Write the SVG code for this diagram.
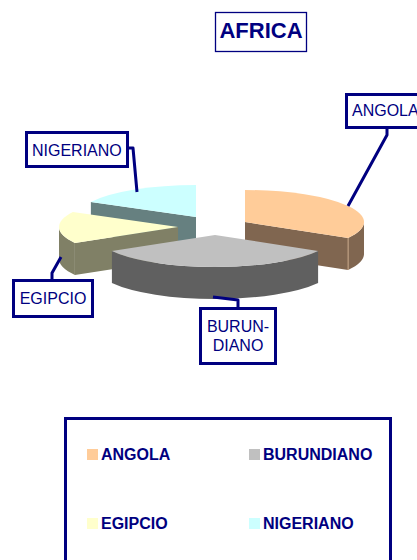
<svg xmlns="http://www.w3.org/2000/svg" width="417" height="560" viewBox="0 0 417 560">
<style>
.lbl{font-family:"Liberation Sans",Arial,sans-serif;font-size:16px;fill:#000080}
.leg{font-family:"Liberation Sans",Arial,sans-serif;font-size:16px;font-weight:bold;fill:#000080}
.box{fill:#fff;stroke:#000080;stroke-width:3}
.lead{fill:none;stroke:#000080;stroke-width:3;stroke-linejoin:round}
</style>
<rect width="417" height="560" fill="#fff"/>
<g id="title">
<rect x="215.5" y="12.5" width="91" height="39" fill="#fff" stroke="#000080" stroke-width="1.3"/>
<text x="261" y="37.5" text-anchor="middle" font-family="'Liberation Sans',Arial,sans-serif" font-size="22" font-weight="bold" fill="#000080">AFRICA</text>
</g>
<g id="slice-nigeriano">
<path d="M196,217 L90.9,202 L90.9,234 L196,249 Z" fill="#668080"/>
<path d="M196,217 L90.9,202 A119,32 0 0 1 196,185 Z" fill="#CCFFFF"/>
</g>
<g id="slice-angola">
<path d="M245,222 L348.1,238 L348.1,270 L245,254 Z" fill="#806650"/>
<path d="M348.1,238 A119,32 0 0 0 364,222 L364,254 A119,32 0 0 1 348.1,270 Z" fill="#806650"/>
<line x1="348.1" y1="238" x2="348.1" y2="270" stroke="#C8A888" stroke-width="1"/>
<path d="M245,222 L245,190 A119,32 0 0 1 348.1,238 Z" fill="#FFCC99"/>
</g>
<g id="slice-egipcio">
<path d="M178,227 L74.9,243 L74.9,275 L178,259 Z" fill="#808066"/>
<path d="M74.9,243 A119,32 0 0 1 59,227 L59,259 A119,32 0 0 0 74.9,275 Z" fill="#808066"/>
<path d="M178,227 L74.9,243 A119,32 0 0 1 72.9,212 Z" fill="#FFFFCC"/>
</g>
<g id="slice-burundiano">
<path d="M318.1,251 A119,32 0 0 1 111.9,251 L111.9,283 A119,32 0 0 0 318.1,283 Z" fill="#606060"/>
<path d="M215,235 L318.1,251 A119,32 0 0 1 111.9,251 Z" fill="#C0C0C0"/>
</g>
<g id="connectors">
<path class="lead" d="M387,128 L387,135 L348,206"/>
<path class="lead" d="M128,148 L133,148 L137,192"/>
<path class="lead" d="M52,280 L52,273 L61,257"/>
<path class="lead" d="M238,308 L238,300 L213,297"/>
</g>
<g id="callout-angola">
<rect class="box" x="346.5" y="94.5" width="80" height="33"/>
<text class="lbl" x="352" y="116">ANGOLA</text>
</g>
<g id="callout-nigeriano">
<rect class="box" x="26.5" y="132.5" width="101" height="34"/>
<text class="lbl" x="32" y="156">NIGERIANO</text>
</g>
<g id="callout-egipcio">
<rect class="box" x="13.5" y="280.5" width="79" height="36"/>
<text class="lbl" x="53" y="304" text-anchor="middle">EGIPCIO</text>
</g>
<g id="callout-burundiano">
<rect class="box" x="200.5" y="308.5" width="75" height="55"/>
<text class="lbl" x="238" y="332" text-anchor="middle">BURUN-</text>
<text class="lbl" x="238" y="351" text-anchor="middle">DIANO</text>
</g>
<g id="legend">
<rect x="65.5" y="418.5" width="325" height="160" fill="#fff" stroke="#000080" stroke-width="3"/>
<rect x="87" y="449" width="11" height="11" fill="#FFCC99"/>
<text class="leg" x="101" y="460">ANGOLA</text>
<rect x="249" y="449" width="11" height="11" fill="#C0C0C0"/>
<text class="leg" x="263" y="460">BURUNDIANO</text>
<rect x="87" y="518" width="11" height="11" fill="#FFFFCC"/>
<text class="leg" x="101" y="529">EGIPCIO</text>
<rect x="249" y="518" width="11" height="11" fill="#CCFFFF"/>
<text class="leg" x="263" y="529">NIGERIANO</text>
</g>
</svg>
